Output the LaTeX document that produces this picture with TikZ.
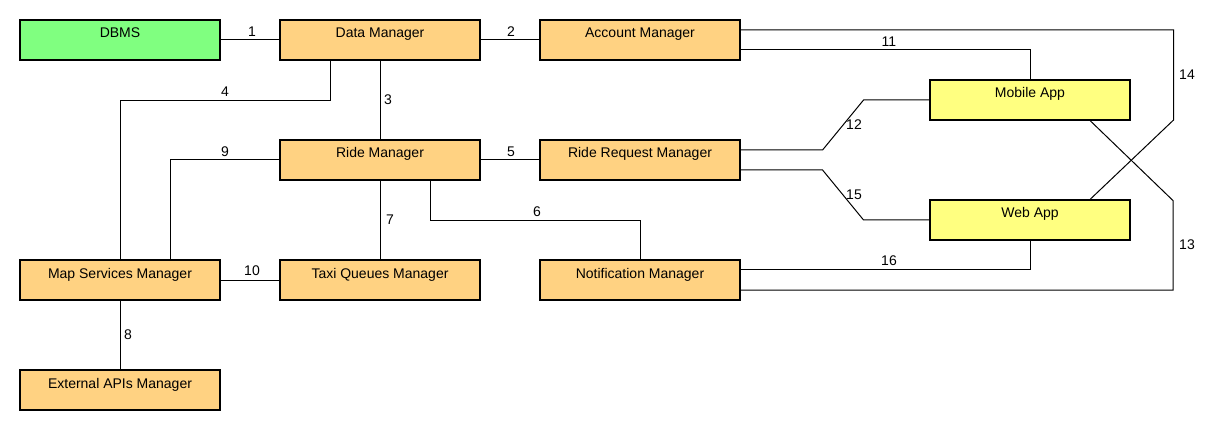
\documentclass[tikz,border=0pt]{standalone}
\usepackage{fontspec}
\setmainfont{Liberation Sans}
\definecolor{mgrfill}{RGB}{255,210,130}
\definecolor{appfill}{RGB}{255,255,128}
\definecolor{dbfill}{RGB}{128,255,128}
\begin{document}
\begin{tikzpicture}[x=1pt, y=-1pt, line width=1pt,
	every node/.style={font=\fontsize{14}{16}\selectfont},
	box/.style={draw=black, line width=1.1pt, rectangle, minimum width=200pt, inner sep=0pt, text height=18pt, text depth=22pt},
	mgr/.style={box, fill=mgrfill},
	app/.style={box, fill=appfill},
	db/.style={box, fill=dbfill},
	lbl/.style={inner sep=0pt}]
	\useasboundingbox (0,0) rectangle (1220,430);
	
	% 模块
	\node[db]  (dbms) at (120,40)  {DBMS};
	\node[mgr] (dm)   at (380,40)  {Data Manager};
	\node[mgr] (am)   at (640,40)  {Account Manager};
	\node[app] (mob)  at (1030,100) {Mobile App};
	\node[mgr] (rm)   at (380,160) {Ride Manager};
	\node[mgr] (rrm)  at (640,160) {Ride Request Manager};
	\node[app] (web)  at (1030,220) {Web App};
	\node[mgr] (msm)  at (120,280) {Map Services Manager};
	\node[mgr] (tqm)  at (380,280) {Taxi Queues Manager};
	\node[mgr] (nm)   at (640,280) {Notification Manager};
	\node[mgr] (ext)  at (120,390) {External APIs Manager};
	
	% 连线
	\draw (dbms.east) -- (dm.west);
	\draw (dm.east) -- (am.west);
	\draw (dm.south) -- (rm.north);
	\draw ([xshift=-50pt]dm.south) -- ++(0,40) -| (msm.north);
	\draw (rm.east) -- (rrm.west);
	\draw ([xshift=50pt]rm.south) -- ++(0,40) -| (nm.north);
	\draw (rm.south) -- (tqm.north);
	\draw (msm.south) -- (ext.north);
	\draw (rm.west) -| ([xshift=50pt]msm.north);
	\draw (msm.east) -- (tqm.west);
	\draw ([yshift=-10pt]am.east) -| (mob.north);
	\draw ([yshift=10pt]rrm.east) -- ++(82,0) -- ++(41,-50) -- (mob.west);
	\draw ([xshift=60pt]mob.south) -- ++(83,80) |- ([yshift=-10pt]nm.east);
	\draw ([yshift=10pt]am.east) -- ++(433,0) -- ++(0,90) -- ([xshift=60pt]web.north);
	\draw ([yshift=-10pt]rrm.east) -- ++(82,0) -- ++(41,50) -- (web.west);
	\draw ([yshift=10pt]nm.east) -| (web.south);
	
	% 编号
	\node[lbl] (n1)  at (252,32)  {1};
	\node[lbl] (n2)  at (511,32)  {2};
	\node[lbl] (n3)  at (388,100) {3};
	\node[lbl] (n4)  at (225,92)  {4};
	\node[lbl] (n5)  at (511,152) {5};
	\node[lbl] (n6)  at (537,212) {6};
	\node[lbl] (n7)  at (390,220) {7};
	\node[lbl] (n8)  at (128,335) {8};
	\node[lbl] (n9)  at (225,152) {9};
	\node[lbl] (n10) at (252,271) {10};
	\node[lbl] (n11) at (889,42)  {11};
	\node[lbl] (n12) at (854,125) {12};
	\node[lbl] (n13) at (1187,245) {13};
	\node[lbl] (n14) at (1187,75) {14};
	\node[lbl] (n15) at (854,195) {15};
	\node[lbl] (n16) at (889,261) {16};
\end{tikzpicture}
\end{document}
